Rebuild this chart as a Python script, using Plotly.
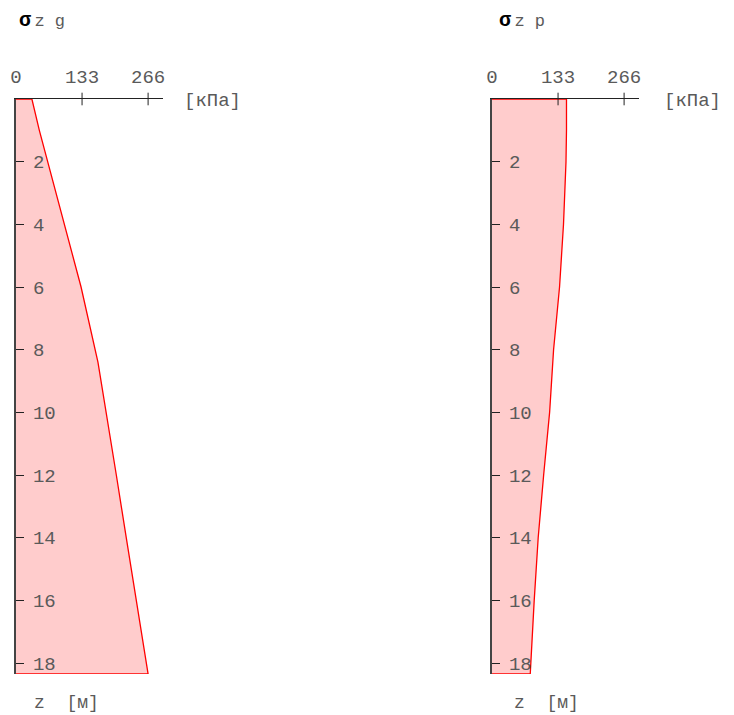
import plotly.graph_objects as go

# Data
z_g = [0, 1, 2, 4, 6, 8.4, 10, 12, 14, 16, 18.35]
sigma_zg = [32, 47, 64, 97, 131, 165, 182, 202, 222, 242, 266]

z_p = [0, 1, 2, 4, 6, 8, 10, 12, 14, 16, 18.35]
sigma_zp = [150, 150, 149, 144, 136, 124, 116, 104, 93, 85, 77]

x_ticks = [0, 133, 266]
y_ticks = [2, 4, 6, 8, 10, 12, 14, 16, 18]
z_max = 18.35
x_max = 296

OFF = 7  # page body margin compensation
W, H = 734, 715
ML = 15 - OFF
MT = 98 - OFF
PW = 623
PH = 575
MR = W - ML - PW
MB = H - MT - PH

def px(xp):
    return (xp - OFF - ML) / PW

def py(yp):
    return (MT + PH - (yp - OFF)) / PH

FONT = "Courier New, Liberation Mono, monospace"
TXT = "#5a5a5a"

fig = go.Figure()

panels = [
    ("x", "y", z_g, sigma_zg, "<span style='color:black;font-size:20px'><b>σ</b></span><span style='font-size:17px'>\u2009z g</span>", 16),
    ("x2", "y2", z_p, sigma_zp, "<span style='color:black;font-size:20px'><b>σ</b></span><span style='font-size:17px'>\u2009z p</span>", 496),
]

for xa, ya, zz, ss, title, x0 in panels:
    fig.add_trace(go.Scatter(
        x=[0] + ss + [0], y=[0] + zz + [zz[-1]],
        mode="lines", fill="toself", fillcolor="rgba(255,0,0,0.2)",
        line=dict(color="red", width=1.3), xaxis=xa, yaxis=ya,
        hoverinfo="skip", showlegend=False))
    fig.add_trace(go.Scatter(
        x=x_ticks[1:], y=[0] * (len(x_ticks) - 1), mode="markers",
        marker=dict(symbol="line-ns", size=9, line=dict(color="#222", width=1)),
        xaxis=xa, yaxis=ya, cliponaxis=False, hoverinfo="skip", showlegend=False))
    fig.add_annotation(text=title, x=px(x0), y=py(19), xref="paper", yref="paper",
                       xanchor="left", yanchor="middle", showarrow=False,
                       font=dict(family=FONT, color=TXT))
    fig.add_annotation(text="[кПа]", x=px(x0 + 165), y=py(100), xref="paper", yref="paper",
                       xanchor="left", yanchor="middle", showarrow=False,
                       font=dict(family=FONT, size=19, color=TXT))
    fig.add_annotation(text="z  [м]", x=px(x0 + 15), y=py(702), xref="paper", yref="paper",
                       xanchor="left", yanchor="middle", showarrow=False,
                       font=dict(family=FONT, size=18, color=TXT))

xcommon = dict(range=[0, x_max], side="top", tickvals=x_ticks, ticktext=[str(v) for v in x_ticks],
               showline=True, linecolor="#222", linewidth=1, ticks="", showgrid=False,
               zeroline=False, tickfont=dict(family=FONT, size=19, color=TXT),
               ticklabelstandoff=7, ticklabeloverflow="allow", automargin=False)
ycommon = dict(range=[z_max, 0], tickvals=y_ticks, ticktext=[str(v) for v in y_ticks],
               showline=True, linecolor="#444", linewidth=1.5, ticks="inside", ticklen=8,
               tickcolor="#222", ticklabelposition="inside", showgrid=False, zeroline=False,
               tickfont=dict(family=FONT, size=19, color=TXT), ticklabelstandoff=10,
               ticklabeloverflow="allow", automargin=False)

fig.update_layout(
    width=W, height=H, margin=dict(l=ML, r=MR, t=MT, b=MB, autoexpand=False),
    paper_bgcolor="white", plot_bgcolor="white",
    xaxis=dict(domain=[0, px(162)], anchor="y", **xcommon),
    xaxis2=dict(domain=[px(491), px(638)], anchor="y2", **xcommon),
    yaxis=dict(domain=[0, 1], anchor="x", **ycommon),
    yaxis2=dict(domain=[0, 1], anchor="x2", **ycommon),
)

fig.write_html("out.html")
